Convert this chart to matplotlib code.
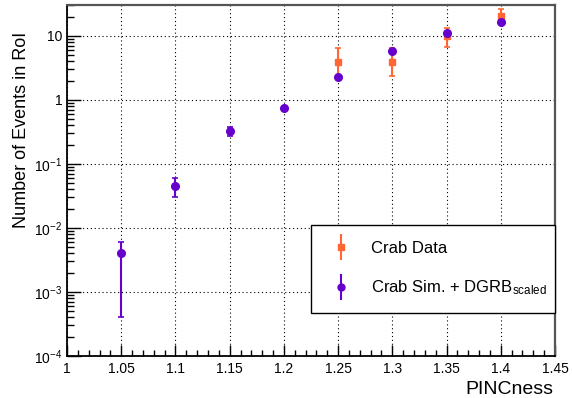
import matplotlib
matplotlib.use('Agg')
import matplotlib.pyplot as plt
from matplotlib.ticker import MultipleLocator, LogLocator, FuncFormatter, NullFormatter
from matplotlib.lines import Line2D
from matplotlib.legend_handler import HandlerTuple

plt.rcParams['font.family'] = ['Liberation Sans', 'DejaVu Sans']
plt.rcParams['mathtext.fontset'] = 'custom'
plt.rcParams['mathtext.rm'] = 'Liberation Sans'
plt.rcParams['mathtext.it'] = 'Liberation Sans:italic'
plt.rcParams['mathtext.default'] = 'regular'

# ---- data ----
x_sim = [1.05, 1.10, 1.15, 1.20, 1.25, 1.30, 1.35, 1.40]
y_sim = [0.0041, 0.046, 0.33, 0.76, 2.3, 5.9, 11.0, 16.5]
sim_err_lo = [0.0037, 0.0155, 0.06, 0.03, 0.1, 0.2, 0.4, 0.5]
sim_err_hi = [0.0020, 0.014, 0.05, 0.03, 0.1, 0.2, 0.4, 0.5]

x_data = [1.25, 1.30, 1.35, 1.40]
y_data = [3.96, 3.96, 10.0, 20.5]
data_err_lo = [1.7, 1.6, 3.2, 4.5]
data_err_hi = [2.6, 2.6, 3.5, 5.5]

labels = ['Crab Data', r'Crab Sim. + DGRB$_{scaled}$']
x_label = 'PINCness'
y_label = 'Number of Events in RoI'

orange = '#ff6633'
purple = '#6600cc'

fig = plt.figure(figsize=(5.72, 3.98), dpi=100)
ax = fig.add_axes([67/572, 42/398, 488/572, 351/398])
ax.set_yscale('log')
ax.set_xlim(1.0, 1.45)
ax.set_ylim(1e-4, 30.5)

ax.errorbar(x_data, y_data, yerr=[data_err_lo, data_err_hi], fmt='s', color=orange,
            ms=5, elinewidth=1.5, capsize=2, capthick=1.2, zorder=3)
ax.errorbar(x_sim, y_sim, yerr=[sim_err_lo, sim_err_hi], fmt='o', color=purple,
            ms=5.5, elinewidth=1.5, capsize=2, capthick=1.2, zorder=4)

ax.xaxis.set_major_locator(MultipleLocator(0.05))
ax.xaxis.set_minor_locator(MultipleLocator(0.01))
ax.xaxis.set_major_formatter(FuncFormatter(lambda v, p: '%g' % round(v, 3)))
ax.yaxis.set_major_locator(LogLocator(base=10, numticks=20))
ax.yaxis.set_minor_locator(LogLocator(base=10, subs=range(2, 10), numticks=20))
ax.yaxis.set_minor_formatter(NullFormatter())

def yfmt(v, p):
    import math
    e = int(round(math.log10(v)))
    if e == 0:
        return '1'
    if e == 1:
        return '10'
    return r'$10^{%d}$' % e
ax.yaxis.set_major_formatter(FuncFormatter(yfmt))

ax.tick_params(which='both', direction='in', top=False, right=False, labelsize=10, color='black')
ax.tick_params(axis='x', which='major', length=8, width=1.0, pad=4.5)
ax.tick_params(axis='x', which='minor', length=4, width=1.0)
ax.tick_params(axis='y', which='major', length=10, width=1.0, pad=3.5)
ax.tick_params(axis='y', which='minor', length=5, width=1.0)

ax.grid(True, which='major', color='black', linestyle=(0, (1, 2.5)), linewidth=0.8)
for s in ['left', 'bottom']:
    ax.spines[s].set_linewidth(1.3)
    ax.spines[s].set_color('black')
for s in ['top', 'right']:
    ax.spines[s].set_linewidth(1.6)
    ax.spines[s].set_color('#555555')

h_data = (Line2D([], [], marker='|', ms=19, mew=1.5, color=orange, ls='none'),
          Line2D([], [], marker='s', ms=5, color=orange, ls='none'))
h_sim = (Line2D([], [], marker='|', ms=19, mew=1.5, color=purple, ls='none'),
         Line2D([], [], marker='o', ms=5, color=purple, ls='none'))
leg = ax.legend([h_data, h_sim], labels,
                handler_map={tuple: HandlerTuple(ndivide=1)},
                loc='lower left', bbox_to_anchor=(311/572, 85/398, 244/572, 89/398),
                bbox_transform=fig.transFigure, mode='expand', fontsize=12,
                frameon=True, fancybox=False, edgecolor='black', framealpha=1,
                borderpad=0.95, handlelength=1.7, handletextpad=0.95,
                labelspacing=1.35, borderaxespad=0)
leg.get_frame().set_linewidth(1.0)

fig.text(22/572, 1 - 228/398, y_label, rotation=90, ha='center', va='bottom', fontsize=13)
fig.text(553/572, 1 - 394/398, x_label, ha='right', va='baseline', fontsize=14)

fig.savefig('out.png', dpi=100)
